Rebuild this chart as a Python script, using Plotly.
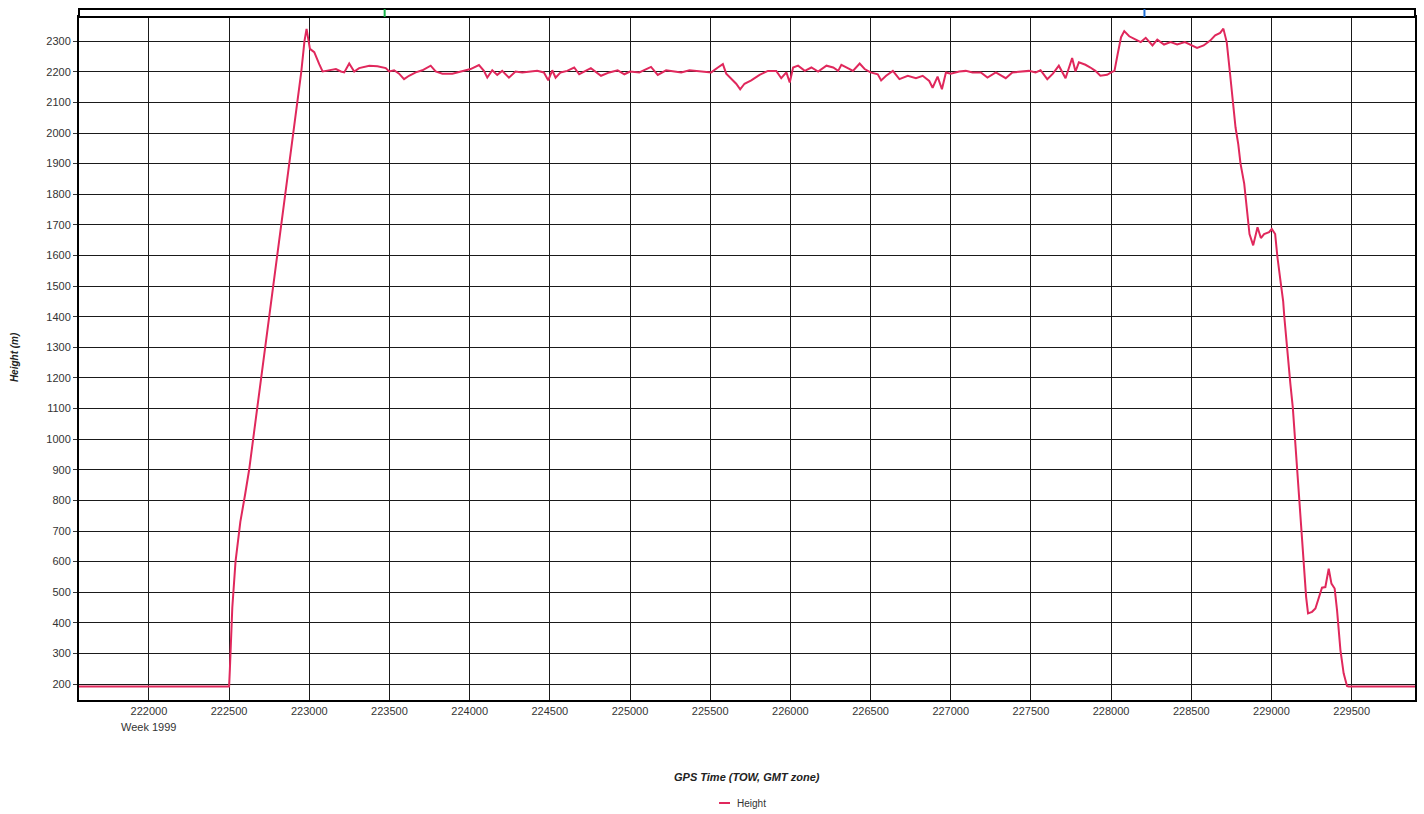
import plotly.graph_objects as go

# GPS time of week (s) and height (m)
gps_time = [
    221560, 222500, 222505, 222520, 222540, 222570, 222600, 222625, 222650, 222700,
    222750, 222800, 222850, 222875, 222900, 222925, 222950, 222970, 222983, 223004,
    223031, 223062, 223083, 223104, 223135, 223166, 223197, 223218, 223249, 223280,
    223311, 223374, 223425, 223477, 223498, 223529, 223560, 223591, 223622, 223664,
    223705, 223757, 223788, 223830, 223892, 223954, 224006, 224058, 224089, 224110,
    224141, 224172, 224203, 224245, 224286, 224328, 224369, 224421, 224463, 224490,
    224515, 224536, 224567, 224608, 224652, 224683, 224756, 224819, 224871, 224923,
    224965, 225000, 225058, 225131, 225173, 225225, 225277, 225319, 225371, 225433,
    225506, 225548, 225579, 225600, 225641, 225662, 225687, 225714, 225756, 225808,
    225860, 225912, 225943, 225975, 225996, 226017, 226048, 226090, 226131, 226173,
    226225, 226267, 226298, 226318, 226370, 226390, 226432, 226463, 226500, 226545,
    226566, 226597, 226639, 226680, 226732, 226783, 226825, 226866, 226887, 226918,
    226945, 226970, 227000, 227053, 227094, 227136, 227188, 227229, 227281, 227343,
    227384, 227446, 227488, 227529, 227560, 227602, 227637, 227674, 227716, 227757,
    227778, 227799, 227840, 227871, 227902, 227933, 227975, 228000, 228021, 228041,
    228062, 228082, 228113, 228154, 228185, 228216, 228258, 228288, 228330, 228371,
    228412, 228460, 228500, 228536, 228577, 228618, 228649, 228680, 228700, 228721,
    228742, 228762, 228776, 228793, 228807, 228830, 228851, 228863, 228886, 228913,
    228934, 228954, 228985, 229002, 229023, 229037, 229058, 229073, 229080, 229098,
    229118, 229133, 229149, 229166, 229185, 229201, 229216, 229228, 229253, 229274,
    229299, 229315, 229336, 229357, 229374, 229394, 229409, 229430, 229450, 229471,
    229480, 229900,
]
height = [
    192, 192, 250, 450, 600, 730, 820, 900, 1000, 1200,
    1400, 1600, 1810, 1900, 2010, 2100, 2200, 2300, 2340, 2275,
    2264, 2225, 2201, 2203, 2205, 2209, 2201, 2198, 2227, 2201,
    2212, 2220, 2218, 2212, 2201, 2205, 2194, 2176, 2187, 2198,
    2205, 2220, 2201, 2194, 2194, 2203, 2209, 2222, 2203, 2181,
    2205, 2190, 2203, 2181, 2201, 2198, 2201, 2203, 2198, 2172,
    2205, 2181, 2198, 2203, 2214, 2192, 2212, 2187, 2198, 2205,
    2192, 2201, 2198, 2216, 2190, 2205, 2201, 2198, 2205, 2201,
    2198, 2214, 2225, 2194, 2172, 2161, 2143, 2161, 2172, 2190,
    2203, 2203, 2179, 2198, 2165, 2214, 2220, 2203, 2214, 2201,
    2220, 2214, 2203, 2223, 2209, 2203, 2227, 2209, 2198, 2192,
    2172, 2187, 2203, 2176, 2187, 2179, 2187, 2170, 2148, 2184,
    2143, 2198, 2194, 2201, 2203, 2198, 2198, 2181, 2198, 2179,
    2198, 2201, 2203, 2198, 2205, 2176, 2194, 2220, 2179, 2245,
    2201, 2231, 2223, 2214, 2203, 2187, 2190, 2198, 2203, 2258,
    2313, 2333, 2316, 2305, 2297, 2311, 2286, 2305, 2289, 2297,
    2289, 2297, 2286, 2278, 2286, 2302, 2319, 2327, 2341, 2297,
    2192, 2082, 2018, 1963, 1900, 1835, 1726, 1670, 1633, 1692,
    1657, 1670, 1676, 1687, 1670, 1595, 1510, 1450, 1400, 1288,
    1180, 1104, 984, 854, 713, 593, 485, 431, 436, 447,
    485, 515, 517, 577, 528, 512, 441, 311, 235, 194,
    192, 192,
]

x_ticks = list(range(222000, 230000, 500))
y_ticks = list(range(200, 2400, 100))
marker_times = [223470, 228208]
marker_colors = ["#19b34a", "#1f6fd6"]

LINE = "#e0285c"
FONT = "Liberation Sans, Arial, sans-serif"

fig = go.Figure()
fig.add_trace(go.Scatter(
    x=gps_time, y=height, mode="lines", name="Height",
    line=dict(color=LINE, width=2), showlegend=False,
))

fig.update_layout(
    width=1424, height=814,
    margin=dict(l=79, r=7, t=17, b=114),
    paper_bgcolor="white", plot_bgcolor="white",
    font=dict(family=FONT, size=11, color="#333"),
    xaxis=dict(
        range=[221564, 229895], tickvals=x_ticks,
        ticktext=[str(v) for v in x_ticks],
        showgrid=True, gridcolor="#1a1a1a", gridwidth=1,
        showline=True, linecolor="black", linewidth=2, mirror=True,
        ticks="", zeroline=False,
        tickfont=dict(family=FONT, size=11, color="#333"),
    ),
    yaxis=dict(
        range=[148, 2379], tickvals=y_ticks,
        showgrid=True, gridcolor="#1a1a1a", gridwidth=1,
        showline=True, linecolor="black", linewidth=2, mirror=True,
        ticks="outside", ticklen=4, tickcolor="#333", zeroline=False,
        tickfont=dict(family=FONT, size=11, color="#333"),
    ),
)

strip_top = 1 + 8 / 683
fig.add_shape(type="rect", xref="paper", yref="paper", x0=0, x1=1, y0=1, y1=strip_top,
              line=dict(color="black", width=2), fillcolor="white", layer="above")
for t, c in zip(marker_times, marker_colors):
    fig.add_shape(type="line", xref="x", yref="paper", x0=t, x1=t, y0=1, y1=strip_top,
                  line=dict(color=c, width=2), layer="above")

# axis titles and week label
fig.add_annotation(text="<b><i>GPS Time (TOW, GMT zone)</i></b>", xref="paper", yref="paper",
                   x=0.5, y=-77 / 683, showarrow=False, yanchor="middle",
                   font=dict(family=FONT, size=11, color="#222"))
fig.add_annotation(text="<b><i>Height (m)</i></b>", xref="paper", yref="paper",
                   x=(14 - 79) / 1338, y=(700 - 357) / 683, showarrow=False, textangle=-90,
                   xanchor="center", yanchor="middle",
                   font=dict(family=FONT, size=10, color="#222"))
fig.add_annotation(text="Week 1999", xref="x", yref="paper", x=222000, y=-27 / 683,
                   showarrow=False, yanchor="middle",
                   font=dict(family=FONT, size=11, color="#333"))

# legend
fig.add_shape(type="line", xref="paper", yref="paper",
              x0=(720 - 79) / 1338, x1=(731 - 79) / 1338, y0=-103 / 683, y1=-103 / 683,
              line=dict(color=LINE, width=2))
fig.add_annotation(text="Height", xref="paper", yref="paper", x=(736 - 79) / 1338, y=-103 / 683,
                   showarrow=False, xanchor="left", yanchor="middle",
                   font=dict(family=FONT, size=10, color="#333"))

fig.write_html("out.html",
               config={"displayModeBar": False},
               post_script="document.body.style.margin='0';document.body.style.overflow='hidden';")
